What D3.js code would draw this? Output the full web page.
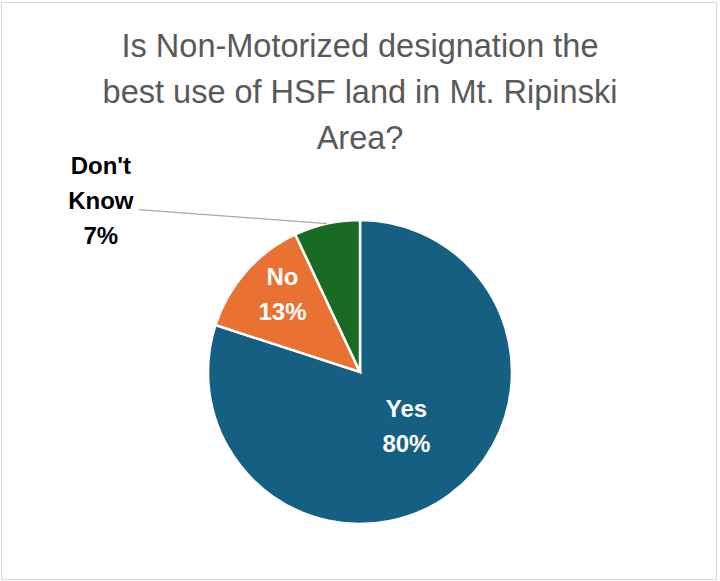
<!DOCTYPE html>
<html>
<head>
<meta charset="utf-8">
<script src="https://cdn.jsdelivr.net/npm/d3@7"></script>
<style>
  html, body { margin: 0; padding: 0; background: #fff; }
  svg { display: block; }
</style>
</head>
<body>
<svg id="chart" width="720" height="581"></svg>
<script>
// ---- data ----
const titleLines = ["Is Non-Motorized designation the", "best use of HSF land in Mt. Ripinski", "Area?"];
const categories = ["Yes", "No", "Don't Know"];
const values = [80, 13, 7];
const colors = ["#156082", "#E97132", "#196B24"];

// ---- layout ----
const W = 720, H = 581;
const cx = 360, cy = 372, R = 152;

const svg = d3.select("#chart");

svg.append("rect")
  .attr("x", 1.5).attr("y", 2.5)
  .attr("width", 715).attr("height", 577)
  .attr("fill", "#fff")
  .attr("stroke", "#d9d9d9")
  .attr("stroke-width", 1);

// title
svg.append("text")
  .attr("text-anchor", "middle")
  .attr("font-family", "'Liberation Sans', Arial, sans-serif")
  .attr("font-size", 32.5)
  .attr("fill", "#595959")
  .selectAll("tspan")
  .data(titleLines)
  .join("tspan")
  .attr("x", cx)
  .attr("y", (d, i) => 57 + i * 46)
  .text(d => d);

const data = categories.map((c, i) => ({ cat: c, value: values[i], color: colors[i] }));
const pie = d3.pie().sort(null).value(d => d.value);
const arcs = pie(data);
const arc = d3.arc().innerRadius(0).outerRadius(R);

const g = svg.append("g").attr("transform", `translate(${cx},${cy})`);

g.selectAll("path")
  .data(arcs)
  .join("path")
  .attr("d", arc)
  .attr("fill", d => d.data.color)
  .attr("stroke", "#fff")
  .attr("stroke-width", 2.5)
  .attr("stroke-linejoin", "miter");

const total = d3.sum(values);
const pct = v => Math.round(v / total * 100) + "%";
const fontFam = "'Liberation Sans', Arial, sans-serif";
const lineH = 35;
const minInside = 0.6; // radians

// inside labels
arcs.forEach(d => {
  const span = d.endAngle - d.startAngle;
  if (span < minInside) return;
  const lr = span > Math.PI ? 0.52 * R : 0.68 * R;
  const mid = (d.startAngle + d.endAngle) / 2;
  const x = Math.sin(mid) * lr, y = -Math.cos(mid) * lr;
  const t = g.append("text")
    .attr("text-anchor", "middle")
    .attr("font-family", fontFam)
    .attr("font-weight", "bold")
    .attr("font-size", 24)
    .attr("fill", "#fff");
  [d.data.cat, pct(d.data.value)].forEach((s, i) => {
    t.append("tspan").attr("x", x).attr("y", y - 19 + i * lineH).text(s);
  });
});

// outside label with leader line
arcs.forEach(d => {
  const span = d.endAngle - d.startAngle;
  if (span >= minInside) return;
  const mid = (d.startAngle + d.endAngle) / 2;
  const px = Math.sin(mid) * R, py = -Math.cos(mid) * R;
  const ex = px - 188, ey = py - 14;
  g.append("line")
    .attr("x1", px).attr("y1", py)
    .attr("x2", ex).attr("y2", ey)
    .attr("stroke", "#a6a6a6")
    .attr("stroke-width", 1.25);
  const lx = ex - 38, ly = ey - 36;
  const t = g.append("text")
    .attr("text-anchor", "middle")
    .attr("font-family", fontFam)
    .attr("font-weight", "bold")
    .attr("font-size", 24)
    .attr("fill", "#000");
  const parts = d.data.cat.split(" ");
  [...parts, pct(d.data.value)].forEach((s, i) => {
    t.append("tspan").attr("x", lx).attr("y", ly + i * lineH).text(s);
  });
});
</script>
</body>
</html>
